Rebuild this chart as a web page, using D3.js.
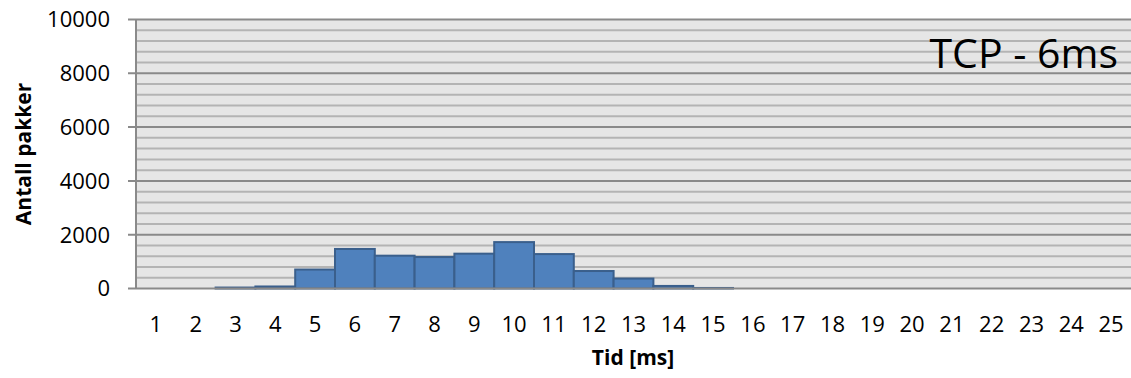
<!DOCTYPE html>
<html lang="no">

<head>
    <meta charset="UTF-8">
    <title>TCP - 6ms</title>
    <script src="https://d3js.org/d3.v7.min.js"></script>
    <style>
        body { margin: 0; background: #fff; }
        svg text { font-family: "Open Sans", sans-serif; fill: #000; }
    </style>
</head>

<body>
    <svg width="1131" height="378"></svg>

    <script>
        const categories = d3.range(1, 26).map(String);
        const packets = [0, 0, 35, 75, 705, 1470, 1220, 1170, 1295, 1725, 1280, 650, 370, 95, 20,
            0, 0, 0, 0, 0, 0, 0, 0, 0, 0];
        const yTicks = [0, 2000, 4000, 6000, 8000, 10000];

        const plot = { left: 136, right: 1131, top: 19.5, bottom: 288.5 };

        const svg = d3.select("svg");

        const x = d3.scaleBand()
            .domain(categories)
            .range([plot.left, plot.right])
            .padding(0);

        const y = d3.scaleLinear()
            .domain([0, 10000])
            .range([plot.bottom, plot.top]);

        // plot background
        svg.append("rect")
            .attr("x", plot.left)
            .attr("y", plot.top)
            .attr("width", plot.right - plot.left)
            .attr("height", plot.bottom - plot.top)
            .attr("fill", "#e6e6e6");

        // minor gridlines every 400
        svg.selectAll(".minor")
            .data(d3.range(400, 10000, 400).filter(v => v % 2000 !== 0))
            .enter().append("line")
            .attr("x1", plot.left)
            .attr("x2", plot.right)
            .attr("y1", d => y(d))
            .attr("y2", d => y(d))
            .attr("stroke", "#b4b4b4")
            .attr("stroke-width", 2);

        // major gridlines + ticks
        svg.selectAll(".major")
            .data(yTicks.filter(v => v > 0))
            .enter().append("line")
            .attr("x1", plot.left - 8)
            .attr("x2", plot.right)
            .attr("y1", d => y(d))
            .attr("y2", d => y(d))
            .attr("stroke", "#8a8a8a")
            .attr("stroke-width", 2);

        // bars
        svg.selectAll(".bar")
            .data(categories.map((c, i) => ({ c, v: packets[i] })).filter(d => d.v > 0))
            .enter().append("rect")
            .attr("x", d => x(d.c))
            .attr("y", d => y(d.v))
            .attr("width", x.bandwidth())
            .attr("height", d => y(0) - y(d.v))
            .attr("fill", "#4f81bd")
            .attr("stroke", "#3a5f8c")
            .attr("stroke-width", 2);

        // axes lines
        svg.append("line")
            .attr("x1", plot.left - 8)
            .attr("x2", plot.right)
            .attr("y1", y(0))
            .attr("y2", y(0))
            .attr("stroke", "#8a8a8a")
            .attr("stroke-width", 2);

        svg.append("line")
            .attr("x1", plot.left)
            .attr("x2", plot.left)
            .attr("y1", plot.top)
            .attr("y2", plot.bottom)
            .attr("stroke", "#8a8a8a")
            .attr("stroke-width", 2);

        // y tick labels
        svg.selectAll(".ylab")
            .data(yTicks)
            .enter().append("text")
            .attr("x", 110)
            .attr("y", d => y(d))
            .attr("dy", "0.36em")
            .attr("text-anchor", "end")
            .style("font-size", "22px")
            .text(d => d);

        // x tick labels
        svg.selectAll(".xlab")
            .data(categories)
            .enter().append("text")
            .attr("x", d => x(d) + x.bandwidth() / 2)
            .attr("y", 331.5)
            .attr("text-anchor", "middle")
            .style("font-size", "22px")
            .text(d => d);

        // axis titles
        svg.append("text")
            .attr("transform", "translate(31,154) rotate(-90)")
            .attr("text-anchor", "middle")
            .style("font-size", "21px")
            .style("font-weight", "bold")
            .text("Antall pakker");

        svg.append("text")
            .attr("x", 633)
            .attr("y", 365)
            .attr("text-anchor", "middle")
            .style("font-size", "21px")
            .style("font-weight", "bold")
            .text("Tid [ms]");

        // chart label inside plot
        svg.append("text")
            .attr("x", 1118)
            .attr("y", 68)
            .attr("text-anchor", "end")
            .style("font-size", "41px")
            .text("TCP - 6ms");
    </script>
</body>

</html>
